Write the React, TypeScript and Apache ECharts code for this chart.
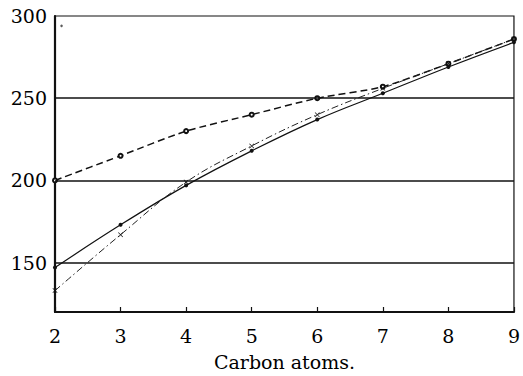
import React, { useEffect, useRef } from "react";
import * as echarts from "echarts";

const carbonAtoms = [2, 3, 4, 5, 6, 7, 8, 9];
const dashedSeries = [200, 215, 230, 240, 250, 257, 271, 286];
const solidSeries = [147, 173, 197, 218, 237, 253, 269, 284];
const dashDotSeries = [133, 167, 199, 221, 240, 256, 271, 286];
const strayPoint = [[2.1, 294]];
const yTickLabels = [150, 200, 250, 300];
const gridLineValues = [150, 200, 250];

const FONT = "DejaVu Serif";

export default function App() {
  const ref = useRef<HTMLDivElement>(null);
  useEffect(() => {
    if (!ref.current) return;
    const chart = echarts.init(ref.current, undefined, { renderer: "svg" });
    const pair = (ys: number[]) => carbonAtoms.map((x, i) => [x, ys[i]]);
    chart.setOption({
      animation: false,
      backgroundColor: "#ffffff",
      grid: {
        left: 55,
        right: 6,
        top: 16,
        bottom: 58,
        show: true,
        borderColor: "#111",
        borderWidth: 1.2,
      },
      xAxis: {
        type: "value",
        min: 2,
        max: 9,
        interval: 1,
        name: "Carbon atoms.",
        nameLocation: "middle",
        nameGap: 40,
        nameTextStyle: { fontFamily: FONT, fontSize: 19, color: "#000" },
        axisLine: { show: true, lineStyle: { color: "#111", width: 2.2 } },
        axisTick: { show: true, inside: true, length: 5, lineStyle: { color: "#111", width: 1.2 } },
        axisLabel: { fontFamily: FONT, fontSize: 19, color: "#000", margin: 14 },
        splitLine: { show: false },
      },
      yAxis: {
        type: "value",
        min: 120,
        max: 300,
        interval: 10,
        axisLine: { show: true, lineStyle: { color: "#111", width: 2.2 } },
        axisTick: { show: false },
        axisLabel: {
          fontFamily: FONT,
          fontSize: 19,
          color: "#000",
          margin: 8,
          customValues: yTickLabels,
        },
        splitLine: { show: false },
      },
      series: [
        {
          type: "line",
          data: pair(dashedSeries),
          smooth: 0.25,
          symbol: "emptyCircle",
          symbolSize: 4,
          lineStyle: { color: "#111", width: 1.5, type: [7, 4] },
          itemStyle: { color: "#111", borderWidth: 1 },
          markLine: {
            silent: true,
            symbol: "none",
            label: { show: false },
            lineStyle: { color: "#111", width: 1.6, type: "solid" },
            data: gridLineValues.map((v) => ({ yAxis: v })),
          },
        },
        {
          type: "line",
          data: pair(solidSeries),
          smooth: 0.4,
          symbol: "circle",
          symbolSize: 4,
          lineStyle: { color: "#111", width: 1.2, type: "solid" },
          itemStyle: { color: "#111" },
        },
        {
          type: "line",
          data: pair(dashDotSeries),
          smooth: 0.4,
          symbol: "path://M0,1L1,0L5,4L9,0L10,1L6,5L10,9L9,10L5,6L1,10L0,9L4,5Z",
          symbolSize: 5,
          lineStyle: { color: "#222", width: 1, type: [7, 3, 1.5, 3] },
          itemStyle: { color: "#111" },
        },
        {
          type: "scatter",
          data: strayPoint,
          symbol: "circle",
          symbolSize: 2.5,
          itemStyle: { color: "#333" },
        },
      ],
    });
    return () => chart.dispose();
  }, []);
  return (
    <div
      ref={ref}
      style={{ position: "absolute", left: 0, top: 0, width: 523, height: 376 }}
    />
  );
}
